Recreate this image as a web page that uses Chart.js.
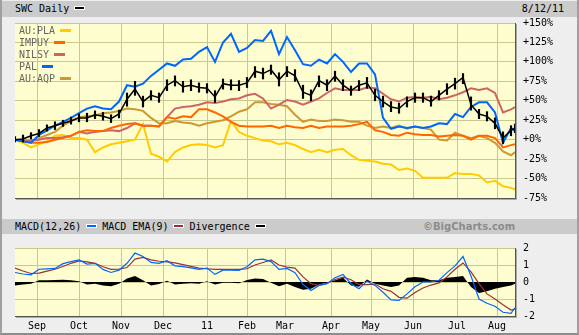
<!DOCTYPE html>
<html>
<head>
<meta charset="utf-8">
<script src="https://cdn.jsdelivr.net/npm/chart.js@4.4.1/dist/chart.umd.min.js"></script>
<style>
  html, body { margin: 0; padding: 0; }
  body {
    width: 579px; height: 335px; position: relative; overflow: hidden;
    background: #eeeeee; font-family: 'DejaVu Sans Mono', monospace; font-size: 10px; color: #000;
  }
  .frame { position: absolute; left: 0; top: 0; width: 575px; height: 333px;
           border-left: 2px solid #a0a0a0; border-right: 2px solid #a0a0a0; border-bottom: 2px solid #8c8c8c; }
  .bar { position: absolute; left: 2px; width: 575px; background: #cbcbcb; }
  .bar span { position: absolute; white-space: pre; }
  .sw { display: inline-block; width: 9px; height: 2px; border: 1px solid #fff; vertical-align: middle;
        margin: 0 5px 0 5px; position: relative; top: -1px; }
  canvas { position: absolute; left: 0; z-index: 2; }
  #legend { position: absolute; left: 19px; top: 25px; z-index: 3; color: #666; line-height: 12px; }
  #legend i { display: inline-block; width: 11px; height: 3px; margin-left: 5px; vertical-align: middle;
              position: relative; top: -1px; }
  .copy { font-family: 'DejaVu Sans', sans-serif; font-weight: bold; font-size: 10px; color: #8c8c8c; }
</style>
</head>
<body>
<div class="frame"></div>

<div class="bar" style="top:1px; height:16px; line-height:16px;">
  <span style="left:13px;">SWC Daily<i class="sw" style="background:#000"></i></span>
  <span style="right:13px;">8/12/11</span>
</div>

<div class="bar" style="top:219px; height:15px; line-height:15px;">
  <span style="left:13px;">MACD(12,26)<i class="sw" style="background:#0066ff"></i>MACD EMA(9)<i class="sw" style="background:#993333"></i>Divergence<i class="sw" style="background:#000"></i></span>
  <span class="copy" style="left:421px;">©BigCharts.com</span>
</div>

<div id="legend">
  <div>AU:PLA<i style="background:#ffcc00"></i></div>
  <div>IMPUY<i style="background:#ff6600"></i></div>
  <div>NILSY<i style="background:#cc6666"></i></div>
  <div>PAL<i style="background:#0066ff"></i></div>
  <div>AU:AQP<i style="background:#cc9933"></i></div>
</div>

<canvas id="main" width="579" height="212" style="top:0; width:579px; height:212px;"></canvas>
<canvas id="macd" width="579" height="101" style="top:234px; width:579px; height:101px;"></canvas>

<script>
// trading-day index of each sample (day 0 = Aug 12 2010 minus a few sessions)
const days = [3,7,11,15,19,23,27,31,35,39,43,47,51,55,59,63,67,71,75,79,83,87,91,95,99,103,107,111,115,119,
  123,127,131,135,139,143,147,151,155,159,163,167,171,175,179,183,187,191,195,199,203,207,211,215,219,223,
  227,231,235,239,243,247,251,253];

// month boundaries on the day axis and their labels
const monthStarts = [14, 35, 56, 77, 99, 119, 138, 161, 181, 202, 224, 244];
const monthLabels = ['Sep', 'Oct', 'Nov', 'Dec', '11', 'Feb', 'Mar', 'Apr', 'May', 'Jun', 'Jul', 'Aug'];

const pctTicks = [-75, -50, -25, 0, 25, 50, 75, 100, 125, 150];
const pctLabels = ['-75%', '-50%', '-25%', '+0%', '+25%', '+50%', '+75%', '+100%', '+125%', '+150%'];
const macdTicks = [-2, -1, 0, 1, 2];
const macdLabels = ['-2', '-1', '0', '1', '2'];

// % change since start
const swcClose = [0,1,5,8,15,18,21,24,28,28,32,30,27,33,52,65,49,57,54,70,76,68,70,67,66,55,72,70,70,73,
  88,85,90,77,88,82,61,57,76,70,82,70,63,70,73,57,49,42,40,49,54,54,49,57,65,72,80,45,33,30,21,2,12,15];
const swcHigh = [4,6,9,13,19,23,25,29,33,34,37,35,32,38,60,75,56,63,60,77,82,75,77,73,72,63,78,77,76,80,
  94,92,96,86,94,90,70,64,82,77,88,77,69,76,80,65,56,49,47,55,60,60,56,63,72,79,85,55,39,36,28,10,18,20];
const swcLow = [-3,-3,1,4,11,13,17,20,23,23,27,25,22,28,43,57,42,51,48,63,69,61,63,61,60,48,65,64,63,67,
  80,78,84,69,81,75,53,50,68,63,75,63,57,63,66,50,42,36,34,42,48,48,43,51,58,65,72,38,27,24,14,-5,5,9];
const pla = [0,-4,-10,-6,-2,5,6,2,2,0,-16,-10,-6,-4,-2,0,20,-18,-22,-28,-16,-10,-7,-6,-7,-10,-7,24,10,5,
  2,-1,-2,-6,-4,-7,-12,-16,-13,-16,-13,-12,-20,-26,-27,-28,-31,-32,-39,-37,-40,-49,-49,-49,-49,-43,-44,-44,-46,-55,
  -53,-60,-62,-64];
const impuy = [0,-2,-4,-4,-3,0,2,5,10,12,11,11,15,18,20,21,18,18,17,29,27,30,29,39,39,35,30,23,18,17,
  17,17,18,15,18,16,15,18,15,17,17,17,18,20,23,12,10,6,5,9,7,6,6,4,5,6,5,0,5,5,2,-10,-7,-6];
const nilsy = [0,-1,-1,0,2,2,3,5,10,8,10,11,12,11,15,21,18,18,17,29,40,42,43,45,48,47,49,52,53,57,
  59,53,40,45,51,49,45,49,53,60,66,64,64,64,67,66,59,52,49,54,55,54,55,52,54,57,61,66,64,66,60,35,39,42];
const pal = [0,-2,-4,6,12,18,23,28,34,40,43,40,39,49,70,68,72,82,90,98,95,103,104,113,119,100,125,136,113,118,
  128,127,140,110,132,115,97,95,103,98,110,100,87,98,98,84,28,14,17,15,17,15,17,21,20,33,29,42,48,48,35,-4,15,11];
const aqp = [0,-2,-2,2,6,10,18,24,29,30,31,34,35,37,40,39,37,28,21,21,24,22,21,18,21,23,25,30,36,39,
  48,48,46,45,43,32,23,26,24,24,26,25,23,23,18,15,17,15,18,14,17,15,13,0,-1,9,5,2,5,2,-4,-15,-20,-16];

// MACD(12,26), its 9-day EMA and the divergence histogram
const macd = [0.56,0.47,0.42,0.75,0.77,0.8,1.08,1.2,1.3,1.05,1.1,0.74,0.56,0.7,1.1,1.7,1.5,1.15,1.1,1.25,
  0.95,0.9,0.83,0.74,0.82,0.45,0.7,0.7,0.68,0.9,1.3,1.34,1.2,0.74,0.8,0.55,-0.15,-0.5,-0.2,-0.1,
  0.25,0.45,-0.1,-0.4,0.05,-0.2,-0.6,-1.05,-1.08,-0.7,-0.28,0,0,0.1,0.55,0.95,1.5,0.35,-1,-1.25,-1.43,-1.78,-1.85,-1.52];
const ema = [0.82,0.65,0.5,0.52,0.64,0.75,0.91,1.1,1.24,1.18,1.1,0.9,0.74,0.76,0.85,1.35,1.45,1.3,1.22,1.18,
  1.12,1.02,0.92,0.82,0.78,0.74,0.74,0.74,0.74,0.78,1,1.15,1.3,1,0.88,0.82,0.3,-0.1,-0.2,-0.08,
  0.15,0.28,0.13,-0.15,-0.15,-0.12,-0.4,-0.55,-0.9,-0.95,-0.62,-0.35,-0.18,-0.05,0.3,0.75,1.12,0.6,-0.1,-0.7,-1,-1.34,-1.65,-1.6];
const divergence = [-0.2,-0.15,-0.1,0.1,0.1,0.12,0.13,0.1,0.05,-0.15,-0.1,-0.2,-0.25,-0.1,0.2,0.35,0.1,-0.2,-0.12,0.08,
  -0.15,-0.1,-0.08,-0.1,0.05,-0.15,-0.05,-0.05,-0.08,0.12,0.2,0.18,-0.05,-0.25,-0.1,-0.3,-0.45,-0.4,-0.15,-0.05,
  0.1,0.25,-0.2,-0.28,0.15,-0.1,-0.2,-0.3,-0.2,0.25,0.3,0.25,0.1,0.1,0.25,0.3,0.35,-0.3,-0.65,-0.55,-0.4,-0.3,-0.2,-0.1];

const GRID = '#c9c98f';
const FONT = { family: 'DejaVu Sans Mono', size: 10 };

const toPoints = vals => vals.map((v, i) => ({ x: days[i], y: v }));

function lineSet(label, vals, color, width) {
  return {
    type: 'line', label, data: toPoints(vals),
    borderColor: color, borderWidth: width, pointRadius: 0, tension: 0, fill: false
  };
}

// pale plot background plus the dark drop shadow on the bottom/right edge
const plotFrame = {
  id: 'plotFrame',
  beforeDraw(chart) {
    const { ctx, chartArea: a } = chart;
    ctx.save();
    ctx.fillStyle = '#fdfdcf';
    ctx.fillRect(a.left, a.top, a.right - a.left, a.bottom - a.top);
    ctx.restore();
  },
  afterDraw(chart) {
    const { ctx, chartArea: a } = chart;
    ctx.save();
    ctx.fillStyle = '#555';
    ctx.fillRect(a.left, a.bottom, a.right - a.left + 1, 1);
    ctx.fillRect(a.right, a.top, 1, a.bottom - a.top + 1);
    ctx.fillStyle = '#aaa';
    ctx.fillRect(a.left + 1, a.bottom + 1, a.right - a.left + 1, 1);
    ctx.fillRect(a.right + 1, a.top + 1, 1, a.bottom - a.top + 1);
    ctx.restore();
  }
};

function dayAxis(showLabels) {
  return {
    type: 'linear', min: 3, max: 253, offset: false,
    afterBuildTicks: s => { s.ticks = monthStarts.map(v => ({ value: v })); },
    afterFit: s => { s.height = showLabels ? 19 : 0; },
    grid: { color: GRID, drawTicks: false, offset: false },
    border: { display: false },
    ticks: {
      display: showLabels, autoSkip: false, maxRotation: 0, padding: 4,
      font: FONT, color: '#000',
      callback: (v, i) => monthLabels[i]
    }
  };
}

function valueAxis(min, max, tickVals, tickLabels) {
  return {
    type: 'linear', position: 'right', min, max,
    afterBuildTicks: s => { s.ticks = tickVals.map(v => ({ value: v })); },
    afterFit: s => { s.width = 64; },
    grid: { color: GRID, drawTicks: false },
    border: { display: false },
    ticks: {
      padding: 8, crossAlign: 'near', font: FONT, color: '#000',
      callback: (v, i) => tickLabels[i]
    }
  };
}

new Chart(document.getElementById('main'), {
  type: 'line',
  data: {
    datasets: [
      lineSet('SWC', swcClose, '#000', 1.5),
      {
        type: 'bar', label: 'SWC range',
        data: days.map((d, i) => ({ x: d, y: [swcLow[i], swcHigh[i]] })),
        backgroundColor: '#000', borderWidth: 0, barThickness: 1.5, grouped: false
      },
      lineSet('PAL', pal, '#0066ff', 2),
      lineSet('IMPUY', impuy, '#ff6600', 2),
      lineSet('NILSY', nilsy, '#cc6666', 2),
      lineSet('AU:AQP', aqp, '#cc9933', 2),
      lineSet('AU:PLA', pla, '#ffcc00', 2)
    ]
  },
  options: {
    responsive: false, animation: false, devicePixelRatio: 1,
    layout: { padding: { left: 15, top: 23, right: 0, bottom: 5 } },
    plugins: { legend: { display: false }, tooltip: { enabled: false } },
    scales: {
      x: dayAxis(false),
      y: valueAxis(-75, 150, pctTicks, pctLabels)
    }
  },
  plugins: [plotFrame]
});

new Chart(document.getElementById('macd'), {
  type: 'line',
  data: {
    datasets: [
      lineSet('MACD(12,26)', macd, '#0066ff', 1.2),
      lineSet('MACD EMA(9)', ema, '#993333', 1.2),
      {
        type: 'line', label: 'Divergence', data: toPoints(divergence),
        borderWidth: 0, pointRadius: 0, tension: 0,
        fill: 'origin', backgroundColor: '#000'
      }
    ]
  },
  options: {
    responsive: false, animation: false, devicePixelRatio: 1,
    layout: { padding: { left: 15, top: 5, right: 0, bottom: 0 } },
    plugins: { legend: { display: false }, tooltip: { enabled: false } },
    scales: {
      x: dayAxis(true),
      y: valueAxis(-2, 2, macdTicks, macdLabels)
    }
  },
  plugins: [plotFrame]
});
</script>
</body>
</html>
